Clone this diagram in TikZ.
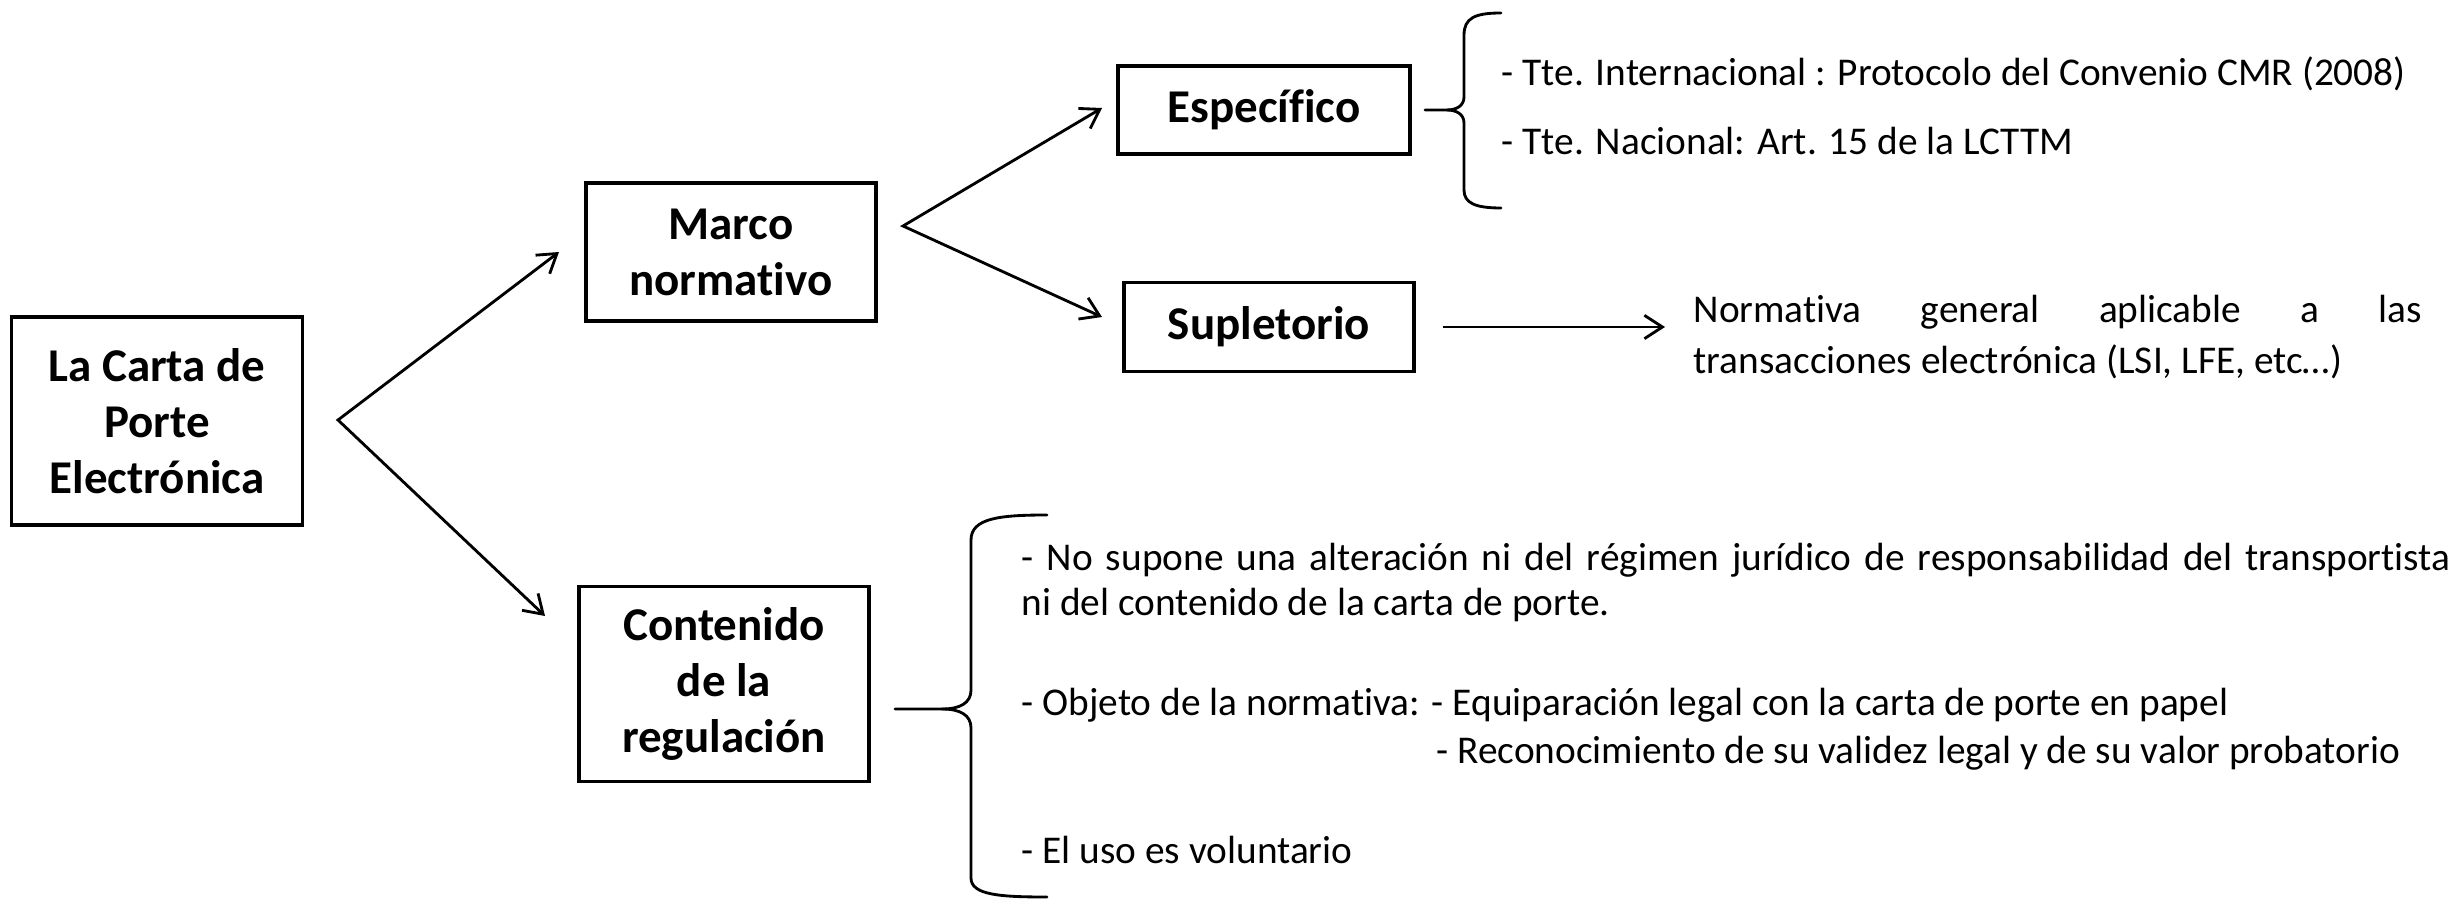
\documentclass[tikz,border=0pt]{standalone}
\usepackage{fontspec}
\setmainfont{Carlito}[Ligatures=NoCommon]
\usetikzlibrary{arrows.meta}
\begin{document}
\begin{tikzpicture}[x=0.3pt,y=-0.3pt,
  box/.style={draw, line width=1.1pt, inner sep=0pt, align=center, font=\fontsize{14.1}{16.8}\selectfont\bfseries},
  txt/.style={inner sep=0pt, anchor=base west, font=\fontsize{11.8}{14}\selectfont},
  conn/.style={line width=0.85pt, line join=miter},
  tip/.style={{Straight Barb[length=5.4pt,width=7pt]}-{Straight Barb[length=5.4pt,width=7pt]}},
  arr/.style={-{Straight Barb[length=5.4pt,width=7pt]}},
  bracestyle/.style={line width=0.85pt, line cap=round}]
\useasboundingbox (0,0) rectangle (2456,902);
% boxes
\node[box, minimum width=87.3pt, minimum height=62.4pt] (carta) at (157,421) {La Carta de\\Porte\\Electrónica};
\node[box, minimum width=87pt, minimum height=41.4pt] (marco) at (731,252) {Marco\\normativo};
\node[box, minimum width=87.6pt, minimum height=26.4pt] (espec) at (1264,110) {Específico};
\node[box, minimum width=87pt, minimum height=26.7pt] (suple) at (1269,327) {Supletorio};
\node[box, minimum width=87pt, minimum height=58.5pt] (conte) at (724,684) {Contenido\\de la\\regulación};
% forks
\coordinate (f1) at (338,420);
\coordinate (f1a) at (559,252);
\coordinate (f1b) at (545,616);
\draw[conn,tip] (f1a) -- (f1) -- (f1b);
\coordinate (f2) at (903,226);
\coordinate (f2a) at (1102,108);
\coordinate (f2b) at (1102,317);
\draw[conn,tip] (f2a) -- (f2) -- (f2b);
% brace 1
\draw[bracestyle] (1501,13) .. controls (1475,13) and (1464,18) .. (1464,35) -- (1464,97)
  .. controls (1464,106) and (1456,110) .. (1447,110) -- (1425,110);
\draw[bracestyle] (1447,110) .. controls (1456,110) and (1464,114) .. (1464,123) -- (1464,190)
  .. controls (1464,203) and (1475,208) .. (1501,208);
\node[txt] (tint) at (1501,86) {- Tte. Internacional : Protocolo del Convenio CMR (2008)};
\node[txt] (tnac) at (1501,155) {- Tte. Nacional: Art. 15 de la LCTTM};
% supletorio arrow
\coordinate (sa) at (1443,327);
\coordinate (sb) at (1665,327);
\draw[conn,arr] (sa) -- (sb);
\node[txt] (norm1) at (1693,323) {\makebox[218.4pt][s]{Normativa general aplicable a las}};
\node[txt] (norm2) at (1693,374) {transacciones electrónica (LSI, LFE, etc…)};
% brace 2
\draw[bracestyle] (1047,515) .. controls (1000,515) and (971,518) .. (971,540) -- (971,690)
  .. controls (971,703) and (960,709) .. (942,709) -- (895,709);
\draw[bracestyle] (942,709) .. controls (960,709) and (971,715) .. (971,728) -- (971,878)
  .. controls (971,895) and (1000,897) .. (1047,897);
\node[txt] (c1) at (1021,570) {\makebox[428.7pt][s]{- No supone una alteración ni del régimen jurídico de responsabilidad del transportista}};
\node[txt] (c2) at (1021,615) {ni del contenido de la carta de porte.};
\node[txt] (c3) at (1021,715) {- Objeto de la normativa: - Equiparación legal con la carta de porte en papel};
\node[txt] (c4) at (1436,763) {- Reconocimiento de su validez legal y de su valor probatorio};
\node[txt] (c5) at (1021,863) {- El uso es voluntario};
\end{tikzpicture}
\end{document}
